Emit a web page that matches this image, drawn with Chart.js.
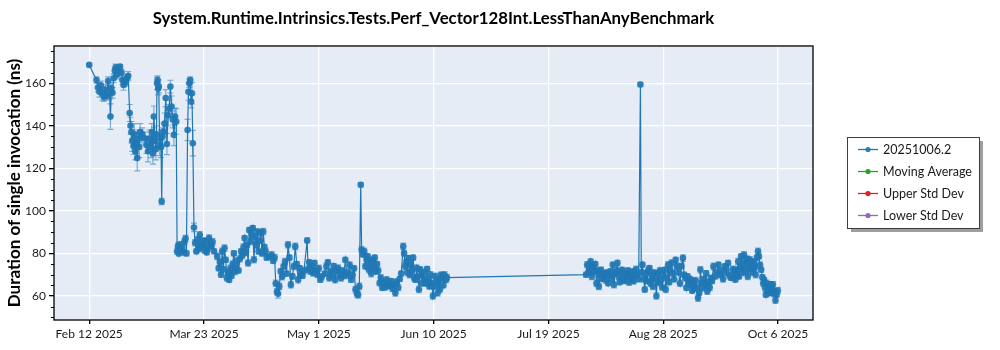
<!DOCTYPE html>
<html>
<head>
<meta charset="utf-8">
<script src="https://cdn.jsdelivr.net/npm/chart.js@4.4.1/dist/chart.umd.min.js"></script>
<style>
  html, body { margin: 0; padding: 0; background: #ffffff; }
  #wrap { width: 1000px; height: 350px; }
</style>
</head>
<body>
<div id="wrap"><canvas id="perfChart" width="1000" height="350"></canvas></div>
<script>
const chartTitle = 'System.Runtime.Intrinsics.Tests.Perf_Vector128Int.LessThanAnyBenchmark';
const yAxisTitle = 'Duration of single invocation (ns)';
const seriesLabels = ['20251006.2', 'Moving Average', 'Upper Std Dev', 'Lower Std Dev'];
const seriesColors = ['#1f77b4', '#2ca02c', '#d62728', '#9467bd'];

// x values are days since Feb 12 2025
const tickDays = [0, 39.45, 78.9, 118.35, 157.8, 197.25, 236.7];
const tickLabels = ['Feb 12 2025', 'Mar 23 2025', 'May 1 2025', 'Jun 10 2025', 'Jul 19 2025', 'Aug 28 2025', 'Oct 6 2025'];
const yTicks = [60, 80, 100, 120, 140, 160];

const runDays = [
  0, 2.5, 3, 3.5, 4, 4.5, 5, 5.5, 6, 6.5, 7, 7.3, 7.6, 8,
  8.4, 8.8, 9.1, 9.6, 10.1, 10.6, 11.1, 11.4, 11.8, 12.1, 12.6, 13.1, 13.4,
  13.9, 14.2, 14.5, 14.8, 15.2, 15.5, 15.8, 16.2, 16.5, 16.8, 17.2, 17.5, 17.9, 18.2, 19.2,
  19.7, 20.2, 20.7, 21.2, 21.5, 21.9, 22.2, 22.6, 22.9, 23.1, 23.3, 23.5, 23.7, 23.9, 24.2, 24.5, 24.7, 24.9, 25.2,
  25.5, 25.9, 26.3, 26.7, 27.1, 27.5, 27.9, 28.3, 28.7, 29.1, 29.5, 29.9, 30.2,
  30.5, 30.8, 31.1, 31.5, 31.9, 32.3, 32.7, 33.1, 33.4,
  33.8, 34.1, 34.4, 34.7, 35, 35.3, 35.6, 36.0,
  36.4, 36.8, 37.2, 37.6, 38, 38.4, 38.8, 39.2, 39.6, 40, 40.4, 40.8, 41.2, 41.6, 42, 42.4, 42.9,
  44, 44.5, 44.9, 45.3, 45.7, 46.1, 46.5, 46.9, 47.3, 47.7, 48.1, 48.5, 48.9, 49.3, 49.7, 50.1, 50.5, 50.9, 51.3,
  51.8, 52.2, 52.6, 53, 53.4, 53.8, 54.2, 54.6, 55, 55.4, 55.8, 56.2, 56.6, 57, 57.4, 57.8, 58.2, 58.6, 59, 59.4, 59.8, 60.2, 60.6, 61,
  61.9, 62.7, 63.2, 63.7, 64.1, 64.5, 64.9, 65.3,
  65.8, 66.3, 66.8, 67.3, 67.8, 68.3, 68.8, 69.3, 69.8, 70.3, 70.8, 71.3, 71.8, 72.3, 72.8, 73.3, 73.8, 74.9, 75.2,
  75.6, 76, 76.4, 76.9, 77.4, 77.9, 78.4, 78.9, 79.4, 79.9,
  81, 81.5, 82, 82.5, 83, 83.5, 84, 84.5, 85, 85.5, 86, 86.5, 87, 87.5, 88, 88.5, 89, 89.5, 90, 90.5, 91,
  91.5, 92, 92.4, 92.8, 93.3, 93.6,
  94.1, 94.5, 94.9, 95.3, 95.7, 96.1, 96.5, 96.9, 97.3, 97.7, 98.1, 98.5, 98.9, 99.3,
  99.8, 100.2, 100.7, 101.2, 101.7, 102.2, 102.7, 103.2, 103.7, 104.2, 104.7, 105.2, 105.7, 106.2, 106.7,
  107.2, 107.9, 108.2, 108.6, 109, 109.3, 109.7, 110.1, 110.5, 110.9, 111.3, 111.7,
  112.1, 112.5, 112.9, 113.3, 113.7, 114.1, 114.5, 114.9, 115.3, 115.7, 116.1, 116.5, 116.9, 117.3, 117.7, 118.1, 118.5, 118.9, 119.3, 119.7, 120.1, 120.5, 120.9, 121.3, 121.7, 122.1, 122.5, 122.9,
  170.7, 171.1, 171.5, 171.9, 172.3, 172.7, 173.1, 173.5, 173.9, 174.3, 174.7, 175.1, 175.5, 175.9, 176.3, 176.7, 177.1, 177.5, 177.9,
  178.3, 178.7, 179.1, 179.5, 179.9, 180.3, 180.7, 181.1, 181.5, 181.9, 182.3, 182.7, 183.1, 183.5, 183.9, 184.3, 184.7,
  185.1, 185.5, 185.9, 186.3, 186.7, 187.1, 187.5, 187.9, 188.3, 188.8, 189.4, 189.7,
  190.1, 190.5, 190.9, 191.3, 191.7, 192.1, 192.5, 192.9, 193.3, 193.7, 194.1, 194.5, 194.9, 195.3, 195.7, 196.1, 196.5, 196.9, 197.3, 197.7, 198.1, 198.5, 198.9, 199.3,
  199.7, 200.1, 200.5, 201.0, 201.5, 202.0, 202.5, 203.0, 203.5, 204.0, 204.4, 204.8, 205.2,
  205.6, 206.0, 206.4, 206.8, 207.2, 207.6, 208.0, 208.4, 208.8, 209.2, 209.6, 210.0, 210.4, 210.8, 211.2, 211.6, 212.0, 212.4, 212.8, 213.2, 213.6,
  214.0, 214.5, 215.1, 215.6, 216.2, 216.7, 217.3, 217.8, 218.4, 218.9, 219.5, 220.0, 220.6, 221.1, 221.6,
  222.0, 222.3, 222.7, 223.0, 223.3, 223.7, 224.0, 224.3, 224.7, 225.0, 225.3, 225.7, 226.0, 226.3, 226.7, 227.0, 227.3, 227.7, 228.0, 228.3, 228.7, 229.0, 229.4, 229.8, 230.1, 230.5, 230.9,
  231.3, 231.6, 231.9, 232.2, 232.5, 232.8, 233.1, 233.4, 233.7, 234.0, 234.3, 234.6, 234.9, 235.2, 235.5, 235.8, 236.2, 236.6
];

const runMeans = [
  168.6, 161.5, 158, 156, 159, 155, 153.5, 157, 154, 161, 155, 144.3, 157.6, 155.5,
  162.3, 166, 167.5, 164, 166.5, 167.8, 165, 161.5, 159.2, 161, 160.5, 162.6, 163.5,
  146, 140, 137, 133, 130.5, 136, 128, 132, 124.8, 134, 130, 137, 135, 136, 134,
  131, 128, 134, 130, 137, 127, 144.3, 133, 129, 136, 160, 161.5, 157.5, 158.5, 131, 134, 130, 104.4, 135,
  137.3, 141, 153, 131.4, 145, 148, 158.4, 149, 143, 135.7, 144.3, 142, 81,
  83.5, 80, 84.1, 81, 82.5, 80.5, 85.5, 87, 80,
  138, 156, 160, 161.5, 151.4, 155.3, 131.8, 92.2,
  85, 81, 86.4, 82, 88.8, 84, 83.3, 86, 81.5, 85.6, 80.5, 82.5, 87.2, 84, 83.3, 85.5, 81,
  78.6, 73, 76, 70, 81, 72.5, 82.5, 77, 68.5, 71, 67.6, 73, 69.5, 75, 80, 71.5, 73, 76.5, 72,
  77.5, 81, 79, 83, 87.2, 80.5, 84, 75.5, 91, 85.6, 89, 91.9, 77, 88, 84, 90.3, 81, 86, 89.6, 80, 90.3, 83, 81, 78,
  78.5, 79.4, 76.5, 78, 66, 62, 61, 64.5,
  71.6, 69, 73.9, 76.2, 70.5, 84.1, 78, 65.3, 69.2, 73.9, 83.3, 75, 67.6, 73.1, 70, 69.5, 72, 86.1, 72.5,
  75.8, 71.6, 74, 70.8, 75.5, 72, 70, 73, 67.6, 69,
  70.5, 73.9, 75.8, 68.5, 71.6, 70, 74, 67.6, 72, 73.1, 70, 68.5, 72, 69.5, 77, 71, 69.6, 74.5, 67.6, 70, 73,
  63, 61, 60.5, 64.5, 112.3, 81.7,
  79.5, 81, 73.9, 77, 78.6, 72.3, 75.5, 70.5, 77, 73, 78, 71.6, 75, 72,
  66, 68.5, 63.8, 66.5, 64, 67.6, 65, 64.8, 67, 63.5, 65.5, 61.4, 66.8, 64, 68,
  70.5, 83.3, 80, 73.9, 76, 71, 77.8, 70, 75.5, 72, 78, 68.5,
  67.6, 73.1, 69, 63, 72.5, 70, 66, 71, 68, 66, 72.7, 67, 64.5, 70, 66, 60, 64.5, 69.2, 66.5, 61.4, 67.6, 63, 70, 68.5, 65, 70, 67.5, 68.6,
  70, 74.7, 71, 72.5, 76.2, 69.2, 73.9, 71.5, 75, 66, 72, 64.5, 70, 72.2, 68, 69.2, 70.7, 67.5, 71,
  66, 70, 71.6, 68, 74.7, 65.3, 70.5, 72, 75.5, 69.2, 66.5, 71, 72.3, 68, 67, 70.5, 69,
  72, 66.5, 70, 68, 71.5, 67, 69.5, 72.5, 70, 68, 159.4, 71,
  74.7, 68, 63, 70.7, 67, 72, 73.1, 66, 69.5, 64.5, 71, 68, 60, 70.7, 66.5, 72, 67.5, 64, 70, 72.3, 63, 68.5, 74.7, 66.5,
  72, 75.5, 70.7, 68, 77, 73.9, 71, 66, 74, 77.8, 70, 68.5, 63.8,
  69.2, 66, 68, 65.3, 62.5, 67, 63.5, 67.3, 64, 59, 61.5, 72.3, 66, 63.8, 68, 65, 70.7, 62.2, 66.5, 64, 68.5,
  67, 73.9, 69.2, 71, 74.7, 70, 72, 68, 73.9, 71, 75.5, 69.5, 68.5, 72.5, 70,
  67.7, 72.3, 70, 76.2, 69.2, 73, 78.6, 73.9, 71, 79.4, 75.5, 72, 77.5, 69.2, 74, 77, 72.5, 75, 71, 76, 73.5, 70, 78, 81, 78.6, 74.5, 72.3,
  68.8, 66, 67.6, 63.8, 60.6, 66, 62.5, 64.5, 61.4, 65.3, 62, 64, 65.5, 61, 62.2, 58, 60.6, 62.5
];

// half-width of each run's error bar, ns
const runErrors = [
  0.6, 1.5, 2, 2.5, 2, 3, 2, 2.5, 2, 2, 2.5, 6, 2, 2.5,
  2, 1.5, 1.5, 2, 1.5, 1, 1.5, 2, 2.5, 2, 2, 1.5, 2,
  4, 4, 5, 5, 4, 5, 4, 5, 6, 4, 5, 4, 3, 3, 3,
  4, 5, 4, 5, 4, 5, 5, 4, 5, 4, 3, 2, 3, 3, 5, 4, 5, 1.5, 4,
  4, 5, 4, 5, 5, 4, 3, 5, 4, 5, 4, 6, 1.5,
  1.5, 1.2, 1.5, 1.2, 1.5, 1.2, 1.5, 1.5, 1.2,
  5, 4, 2, 1.5, 3, 5, 6, 2,
  1.5, 1.2, 1.5, 1.2, 1.5, 1.2, 1.5, 1.2, 1.5, 1.2, 1.2, 1.5, 1.5, 1.2, 1.2, 1.5, 1.2,
  1.5, 1.2, 1.5, 1.2, 1.5, 1.2, 1.5, 1.2, 1.5, 1.2, 1.2, 1.5, 1.2, 1.5, 1.2, 1.5, 1.2, 1.5, 1.2,
  1.5, 1.2, 1.5, 1.5, 1.2, 1.5, 1.2, 1.5, 1.2, 1.5, 1.5, 1.2, 1.5, 1.2, 1.5, 1.2, 1.5, 1.2, 1.5, 1.2, 1.5, 1.2, 1.5, 1.2,
  1.2, 1.5, 1.2, 1.5, 1.5, 1.5, 2, 1.5,
  1.2, 1.5, 1.2, 1.5, 1.2, 1.5, 1.2, 1.5, 1.2, 1.5, 1.5, 1.2, 1.5, 1.2, 1.5, 1.2, 1.5, 1.2, 1.5,
  1.2, 1.5, 1.2, 1.5, 1.2, 1.5, 1.2, 1.5, 1.2, 1.5,
  1.2, 1.5, 1.2, 1.5, 1.2, 1.5, 1.2, 1.5, 1.2, 1.5, 1.2, 1.5, 1.2, 1.5, 1.2, 1.5, 1.2, 1.5, 1.2, 1.5, 1.2,
  1.5, 1.5, 1.5, 1.5, 1, 1.5,
  1.2, 1.5, 1.2, 1.5, 1.2, 1.5, 1.2, 1.5, 1.2, 1.5, 1.2, 1.5, 1.2, 1.5,
  1.2, 1.5, 1.2, 1.5, 1.2, 1.5, 1.2, 1.5, 1.2, 1.5, 1.2, 1.5, 1.2, 1.5, 1.2,
  1.2, 1.5, 1.2, 1.5, 1.2, 1.5, 1.2, 1.5, 1.2, 1.5, 1.2, 1.5,
  1.2, 1.5, 1.2, 1.5, 1.2, 1.5, 1.2, 1.5, 1.2, 1.5, 1.2, 1.5, 1.2, 1.5, 1.2, 1.5, 1.2, 1.5, 1.2, 1.5, 1.2, 1.5, 1.2, 1.5, 1.2, 1.5, 1.2, 1.5,
  1.2, 1.5, 1.2, 1.5, 1.2, 1.5, 1.2, 1.5, 1.2, 1.5, 1.2, 1.5, 1.2, 1.5, 1.2, 1.5, 1.2, 1.5, 1.2,
  1.2, 1.5, 1.2, 1.5, 1.2, 1.5, 1.2, 1.5, 1.2, 1.5, 1.2, 1.5, 1.2, 1.5, 1.2, 1.5, 1.2,
  1.2, 1.5, 1.2, 1.5, 1.2, 1.5, 1.2, 1.5, 1.2, 1.5, 1, 1.2,
  1.2, 1.5, 1.2, 1.5, 1.2, 1.5, 1.2, 1.5, 1.2, 1.5, 1.2, 1.5, 1.5, 1.2, 1.5, 1.2, 1.5, 1.2, 1.5, 1.2, 1.5, 1.2, 1.5, 1.2,
  1.2, 1.5, 1.2, 1.5, 1.2, 1.5, 1.2, 1.5, 1.2, 1.5, 1.2, 1.5, 1.2,
  1.2, 1.5, 1.2, 1.5, 1.2, 1.5, 1.2, 1.5, 1.2, 1.5, 1.2, 1.5, 1.2, 1.5, 1.2, 1.5, 1.2, 1.5, 1.2, 1.5, 1.2,
  1.2, 1.5, 1.2, 1.5, 1.2, 1.5, 1.2, 1.5, 1.2, 1.5, 1.2, 1.5, 1.2, 1.5, 1.2,
  1.2, 1.5, 1.2, 1.5, 1.2, 1.5, 1.2, 1.5, 1.2, 1.5, 1.2, 1.5, 1.2, 1.5, 1.2, 1.5, 1.2, 1.5, 1.2, 1.5, 1.2, 1.5, 1.2, 1.5, 1.2, 1.5, 1.2,
  1.2, 1.5, 1.2, 1.5, 1.2, 1.5, 1.2, 1.5, 1.2, 1.5, 1.2, 1.5, 1.2, 1.5, 1.2, 1.5, 1.2, 1.5
];

const FONT = 'Lato, "DejaVu Sans", sans-serif';
const PLOT_BG = '#e5ecf6';

const runPoints = runDays.map((d, i) => ({ x: d, y: runMeans[i] }));

// light-blue panel behind the grid
const plotBackground = {
  id: 'plotBackground',
  beforeDraw(chart) {
    const { ctx, chartArea: a } = chart;
    ctx.save();
    ctx.fillStyle = PLOT_BG;
    ctx.fillRect(a.left, a.top, a.right - a.left, a.bottom - a.top);
    ctx.restore();
  }
};

// vertical error bars with caps, placed through the chart scales
const errorBars = {
  id: 'errorBars',
  beforeDatasetsDraw(chart) {
    const { ctx, chartArea: a, scales: { x, y } } = chart;
    ctx.save();
    ctx.beginPath();
    ctx.rect(a.left, a.top, a.right - a.left, a.bottom - a.top);
    ctx.clip();
    ctx.strokeStyle = 'rgba(31,119,180,0.55)';
    ctx.lineWidth = 1.2;
    runDays.forEach((d, i) => {
      const e = runErrors[i] || 0;
      if (!e) return;
      const px = x.getPixelForValue(d);
      const lo = y.getPixelForValue(runMeans[i] - e);
      const hi = y.getPixelForValue(runMeans[i] + e);
      ctx.beginPath();
      ctx.moveTo(px, lo); ctx.lineTo(px, hi);
      ctx.moveTo(px - 3, lo); ctx.lineTo(px + 3, lo);
      ctx.moveTo(px - 3, hi); ctx.lineTo(px + 3, hi);
      ctx.stroke();
    });
    ctx.restore();
  }
};

// frame around the plot, minor y ticks and the boxed legend
const frameAndLegend = {
  id: 'frameAndLegend',
  afterDraw(chart) {
    const { ctx, chartArea: a, scales: { y } } = chart;
    ctx.save();
    ctx.strokeStyle = '#000';
    ctx.lineWidth = 1.3;
    ctx.strokeRect(a.left, a.top, a.right - a.left, a.bottom - a.top);

    ctx.lineWidth = 1;
    for (let v = 50; v <= 175; v += 5) {
      if (v % 20 === 0) continue;
      const py = Math.round(y.getPixelForValue(v)) + 0.5;
      ctx.beginPath();
      ctx.moveTo(a.left - 3, py);
      ctx.lineTo(a.left, py);
      ctx.stroke();
    }

    const lw = 132, lh = 91;
    const lx = a.right + 34;
    const ly = Math.round((a.top + a.bottom) / 2 - lh / 2);
    ctx.fillStyle = 'rgba(0,0,0,0.38)';
    ctx.fillRect(lx + 4, ly + 4, lw, lh);
    ctx.fillStyle = '#fff';
    ctx.fillRect(lx, ly, lw, lh);
    ctx.strokeStyle = '#3c3c3c';
    ctx.lineWidth = 1;
    ctx.strokeRect(lx + 0.5, ly + 0.5, lw, lh);

    ctx.font = '12.5px ' + FONT;
    ctx.textBaseline = 'middle';
    ctx.textAlign = 'left';
    chart.data.datasets.forEach((ds, i) => {
      const iy = ly + 12.5 + i * 22;
      ctx.strokeStyle = ds.borderColor;
      ctx.lineWidth = 1.3;
      ctx.beginPath();
      ctx.moveTo(lx + 11, iy);
      ctx.lineTo(lx + 31, iy);
      ctx.stroke();
      ctx.fillStyle = ds.pointBackgroundColor || ds.borderColor;
      ctx.beginPath();
      ctx.arc(lx + 21, iy, 2.6, 0, Math.PI * 2);
      ctx.fill();
      ctx.fillStyle = '#1a1a1a';
      ctx.fillText(ds.label, lx + 36, iy + 0.5);
    });
    ctx.restore();
  }
};

new Chart(document.getElementById('perfChart'), {
  type: 'line',
  data: {
    datasets: [
      {
        label: seriesLabels[0],
        data: runPoints,
        borderColor: seriesColors[0],
        backgroundColor: seriesColors[0],
        borderWidth: 1.2,
        pointRadius: 3.3,
        pointBorderWidth: 0,
        pointBackgroundColor: 'rgba(31,119,180,0.92)',
        tension: 0
      },
      { label: seriesLabels[1], data: [], borderColor: seriesColors[1], backgroundColor: seriesColors[1], pointBackgroundColor: seriesColors[1] },
      { label: seriesLabels[2], data: [], borderColor: seriesColors[2], backgroundColor: seriesColors[2], pointBackgroundColor: seriesColors[2] },
      { label: seriesLabels[3], data: [], borderColor: seriesColors[3], backgroundColor: seriesColors[3], pointBackgroundColor: seriesColors[3] }
    ]
  },
  options: {
    responsive: false,
    animation: false,
    devicePixelRatio: 1,
    layout: { padding: { left: 0, right: 187, top: 0, bottom: 0 } },
    plugins: {
      legend: { display: false },
      tooltip: { enabled: false },
      title: {
        display: true,
        text: chartTitle,
        fullSize: false,
        color: '#000',
        font: { family: FONT, size: 16.8, weight: 'bold', lineHeight: 1.1 },
        padding: { top: 9, bottom: 18.5 }
      }
    },
    scales: {
      x: {
        type: 'linear',
        min: -12.1,
        max: 248.7,
        afterBuildTicks(scale) { scale.ticks = tickDays.map(v => ({ value: v })); },
        afterFit(scale) { scale.height = 30; },
        ticks: {
          autoSkip: false,
          maxRotation: 0,
          color: '#1a1a1a',
          padding: 3,
          font: { family: FONT, size: 12 },
          callback: (v, i) => tickLabels[i]
        },
        grid: { color: '#ffffff', lineWidth: 1.3, tickColor: '#000', tickLength: 4 },
        border: { display: false }
      },
      y: {
        min: 48.7,
        max: 177.5,
        afterBuildTicks(scale) { scale.ticks = yTicks.map(v => ({ value: v })); },
        afterFit(scale) { scale.width = 54; },
        ticks: {
          color: '#1a1a1a',
          padding: 3,
          font: { family: FONT, size: 12 }
        },
        grid: { color: '#ffffff', lineWidth: 1.3, tickColor: '#000', tickLength: 5 },
        border: { display: false },
        title: {
          display: true,
          text: yAxisTitle,
          color: '#000',
          font: { family: FONT, size: 17, weight: 'bold' },
          padding: { top: 4, bottom: 4 }
        }
      }
    }
  },
  plugins: [plotBackground, errorBars, frameAndLegend]
});
</script>
</body>
</html>
